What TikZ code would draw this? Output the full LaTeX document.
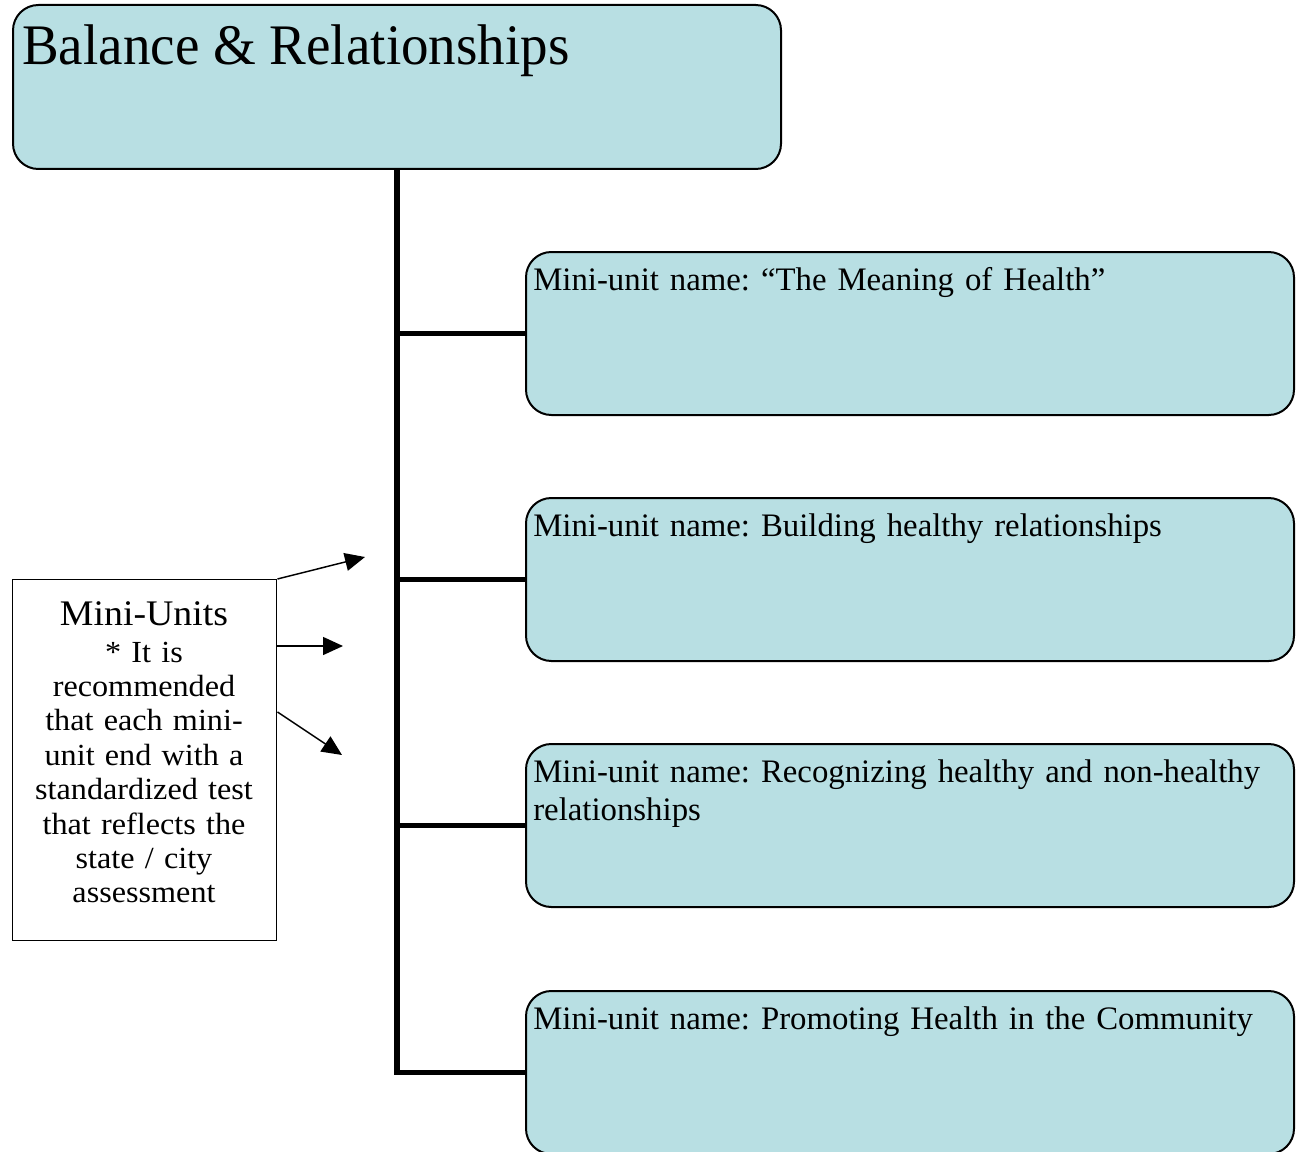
\documentclass[tikz,border=0pt]{standalone}
\usepackage{fontspec}
\setmainfont{Liberation Serif}
\newfontfamily\titlefont[FakeStretch=0.96]{Liberation Serif}
\newfontfamily\notefont[FakeStretch=1.05]{Liberation Serif}
\usetikzlibrary{arrows.meta}
\definecolor{boxblue}{HTML}{B8DFE3}
\tikzset{
	topbox/.style={draw, fill=boxblue, line width=1.5pt, rounded corners=19pt, anchor=north west, minimum width=576pt, minimum height=123pt},
	unitbox/.style={draw, fill=boxblue, line width=1.5pt, rounded corners=19pt, anchor=north west, minimum width=576pt, minimum height=122.25pt},
	unittext/.style={anchor=base west, inner sep=0pt, align=left, text width=575pt, font=\frenchspacing\fontsize{24.6}{28.5}\selectfont},
	infobox/.style={draw, line width=1.1pt, anchor=north west, minimum width=198pt, minimum height=270.75pt},
	branch/.style={line width=4pt},
	pointer/.style={line width=1.1pt, -{Triangle[length=15pt, width=13.5pt]}}
}
\begin{document}
\begin{tikzpicture}[x=0.75pt, y=-0.75pt]
	\useasboundingbox (0,0) rectangle (1296,1152);
	% boxes
	\node[topbox] (title) at (12,4) {};
	\node[anchor=base west, inner sep=0pt, font=\titlefont\fontsize{43}{50}\selectfont] (titletext) at (22,65) {Balance \& Relationships};
	\node[unitbox] (u1) at (525,251) {};
	\node[unitbox] (u2) at (525,497) {};
	\node[unitbox] (u3) at (525,743) {};
	\node[unitbox] (u4) at (525,990) {};
	\node[unittext] (t1) at (533,290) {Mini-unit name: “The Meaning of Health”};
	\node[unittext] (t2) at (533,536) {Mini-unit name: Building healthy relationships};
	\node[unittext] (t3) at (533,782) {Mini-unit name: Recognizing healthy and non-healthy\\relationships};
	\node[unittext] (t4) at (533,1029) {Mini-unit name: Promoting Health in the Community};
	% tree
	\draw[branch] (title.south) |- (u4.west);
	\draw[branch] (title.south |- u1.west) -- (u1.west);
	\draw[branch] (title.south |- u2.west) -- (u2.west);
	\draw[branch] (title.south |- u3.west) -- (u3.west);
	% note on the left
	\node[infobox] (info) at (12,579) {};
	\node[anchor=base, inner sep=0pt, align=center, text width=195pt, font=\notefont\fontsize{23}{25.8}\selectfont] (infotext) at (144,625)
		{{\fontsize{27}{30}\selectfont Mini-Units}\\[2pt]* It is\\recommended\\that each mini-\\unit end with a\\standardized test\\that reflects the\\state / city\\assessment};
	\coordinate (a1) at (365,557);
	\coordinate (a2) at (343,646);
	\coordinate (a3) at (342,755);
	\draw[pointer] (info.north east) -- (a1);
	\draw[pointer] ([yshift=-50.25pt]info.north east) -- (a2);
	\draw[pointer] ([yshift=-99.75pt]info.north east) -- (a3);
\end{tikzpicture}
\end{document}
